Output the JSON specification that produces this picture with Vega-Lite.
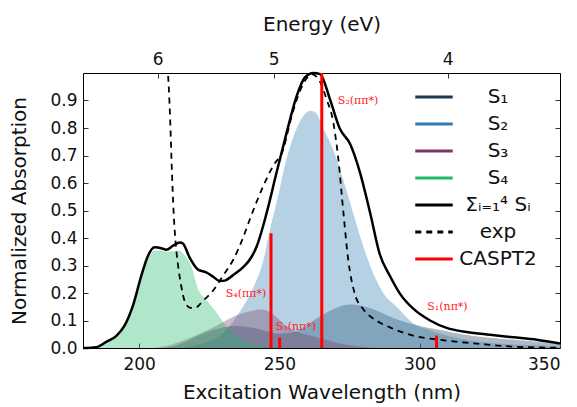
{
  "$schema": "https://vega.github.io/schema/vega-lite/v6.json",
  "width": 477,
  "height": 275,
  "autosize": {"type": "none"},
  "padding": {"left": 83, "top": 73, "right": 17, "bottom": 59},
  "config": {
    "view": {"stroke": "black", "strokeWidth": 1},
    "font": "DejaVu Sans",
    "axis": {"grid": false, "domain": false, "labelFont": "DejaVu Sans", "titleFont": "DejaVu Sans", "labelFontSize": 17, "titleFontSize": 20, "titleFontWeight": "normal", "labelColor": "#111", "titleColor": "#111", "tickColor": "#333"},
    "legend": {"title": null, "orient": "none", "legendX": 337, "legendY": 10, "padding": 0, "symbolType": "M-1.5,0H1.5", "symbolSize": 625, "symbolStrokeWidth": 3, "labelFontSize": 20, "labelFont": "DejaVu Sans", "labelColor": "#111", "labelAlign": "center", "labelOffset": 50, "rowPadding": 3, "labelLimit": 200}
  },
  "datasets": {
    "states": [
      {"nm": 208, "v": 0, "s": "S₁"}, {"nm": 213, "v": 0.008, "s": "S₁"}, {"nm": 218, "v": 0.03, "s": "S₁"}, {"nm": 222, "v": 0.05, "s": "S₁"}, {"nm": 226, "v": 0.065, "s": "S₁"}, {"nm": 230, "v": 0.075, "s": "S₁"}, {"nm": 235, "v": 0.08, "s": "S₁"}, {"nm": 240, "v": 0.075, "s": "S₁"}, {"nm": 245, "v": 0.062, "s": "S₁"}, {"nm": 250, "v": 0.052, "s": "S₁"}, {"nm": 255, "v": 0.058, "s": "S₁"}, {"nm": 260, "v": 0.085, "s": "S₁"}, {"nm": 265, "v": 0.118, "s": "S₁"}, {"nm": 270, "v": 0.145, "s": "S₁"}, {"nm": 275, "v": 0.158, "s": "S₁"}, {"nm": 280, "v": 0.152, "s": "S₁"}, {"nm": 285, "v": 0.135, "s": "S₁"}, {"nm": 290, "v": 0.112, "s": "S₁"}, {"nm": 295, "v": 0.094, "s": "S₁"}, {"nm": 300, "v": 0.08, "s": "S₁"}, {"nm": 305, "v": 0.07, "s": "S₁"}, {"nm": 310, "v": 0.06, "s": "S₁"}, {"nm": 315, "v": 0.05, "s": "S₁"}, {"nm": 320, "v": 0.043, "s": "S₁"}, {"nm": 330, "v": 0.033, "s": "S₁"}, {"nm": 340, "v": 0.025, "s": "S₁"}, {"nm": 350, "v": 0.015, "s": "S₁"},
      {"nm": 215, "v": 0, "s": "S₂"}, {"nm": 220, "v": 0.01, "s": "S₂"}, {"nm": 225, "v": 0.025, "s": "S₂"}, {"nm": 230, "v": 0.055, "s": "S₂"}, {"nm": 233, "v": 0.09, "s": "S₂"}, {"nm": 237, "v": 0.15, "s": "S₂"}, {"nm": 240.7, "v": 0.22, "s": "S₂"}, {"nm": 244.3, "v": 0.32, "s": "S₂"}, {"nm": 246.6, "v": 0.43, "s": "S₂"}, {"nm": 249, "v": 0.53, "s": "S₂"}, {"nm": 252.6, "v": 0.69, "s": "S₂"}, {"nm": 256.2, "v": 0.8, "s": "S₂"}, {"nm": 259, "v": 0.85, "s": "S₂"}, {"nm": 261, "v": 0.863, "s": "S₂"}, {"nm": 263, "v": 0.855, "s": "S₂"}, {"nm": 265.6, "v": 0.8, "s": "S₂"}, {"nm": 269.2, "v": 0.72, "s": "S₂"}, {"nm": 272.8, "v": 0.61, "s": "S₂"}, {"nm": 276.3, "v": 0.49, "s": "S₂"}, {"nm": 279.9, "v": 0.37, "s": "S₂"}, {"nm": 283.5, "v": 0.27, "s": "S₂"}, {"nm": 287, "v": 0.2, "s": "S₂"}, {"nm": 291.8, "v": 0.15, "s": "S₂"}, {"nm": 297.7, "v": 0.09, "s": "S₂"}, {"nm": 303.7, "v": 0.065, "s": "S₂"}, {"nm": 310, "v": 0.045, "s": "S₂"}, {"nm": 320, "v": 0.025, "s": "S₂"}, {"nm": 330, "v": 0.015, "s": "S₂"}, {"nm": 340, "v": 0.01, "s": "S₂"}, {"nm": 350, "v": 0.005, "s": "S₂"},
      {"nm": 205, "v": 0, "s": "S₃"}, {"nm": 210, "v": 0.008, "s": "S₃"}, {"nm": 215, "v": 0.025, "s": "S₃"}, {"nm": 220, "v": 0.045, "s": "S₃"}, {"nm": 225, "v": 0.068, "s": "S₃"}, {"nm": 230, "v": 0.095, "s": "S₃"}, {"nm": 235, "v": 0.12, "s": "S₃"}, {"nm": 240, "v": 0.135, "s": "S₃"}, {"nm": 244, "v": 0.14, "s": "S₃"}, {"nm": 248, "v": 0.12, "s": "S₃"}, {"nm": 252, "v": 0.085, "s": "S₃"}, {"nm": 256, "v": 0.06, "s": "S₃"}, {"nm": 260, "v": 0.048, "s": "S₃"}, {"nm": 265, "v": 0.035, "s": "S₃"}, {"nm": 270, "v": 0.02, "s": "S₃"}, {"nm": 275, "v": 0.01, "s": "S₃"}, {"nm": 282, "v": 0.002, "s": "S₃"}, {"nm": 290, "v": 0, "s": "S₃"},
      {"nm": 180, "v": 0, "s": "S₄"}, {"nm": 184, "v": 0.003, "s": "S₄"}, {"nm": 187, "v": 0.012, "s": "S₄"}, {"nm": 190, "v": 0.03, "s": "S₄"}, {"nm": 193, "v": 0.055, "s": "S₄"}, {"nm": 196, "v": 0.1, "s": "S₄"}, {"nm": 199, "v": 0.19, "s": "S₄"}, {"nm": 201.5, "v": 0.27, "s": "S₄"}, {"nm": 203.5, "v": 0.33, "s": "S₄"}, {"nm": 205.5, "v": 0.355, "s": "S₄"}, {"nm": 208, "v": 0.355, "s": "S₄"}, {"nm": 210, "v": 0.35, "s": "S₄"}, {"nm": 212, "v": 0.352, "s": "S₄"}, {"nm": 214, "v": 0.355, "s": "S₄"}, {"nm": 216, "v": 0.34, "s": "S₄"}, {"nm": 218.5, "v": 0.3, "s": "S₄"}, {"nm": 221, "v": 0.215, "s": "S₄"}, {"nm": 224, "v": 0.175, "s": "S₄"}, {"nm": 227.5, "v": 0.13, "s": "S₄"}, {"nm": 231, "v": 0.08, "s": "S₄"}, {"nm": 234.5, "v": 0.045, "s": "S₄"}, {"nm": 238, "v": 0.025, "s": "S₄"}, {"nm": 242, "v": 0.012, "s": "S₄"}, {"nm": 246, "v": 0.005, "s": "S₄"}, {"nm": 252, "v": 0, "s": "S₄"}
    ],
    "sum": [
      {"nm": 180, "v": 0, "s": "Σᵢ₌₁⁴ Sᵢ"}, {"nm": 184.7, "v": 0.003, "s": "Σᵢ₌₁⁴ Sᵢ"}, {"nm": 188.3, "v": 0.022, "s": "Σᵢ₌₁⁴ Sᵢ"}, {"nm": 191.9, "v": 0.044, "s": "Σᵢ₌₁⁴ Sᵢ"}, {"nm": 194.8, "v": 0.081, "s": "Σᵢ₌₁⁴ Sᵢ"}, {"nm": 197.8, "v": 0.154, "s": "Σᵢ₌₁⁴ Sᵢ"}, {"nm": 200.8, "v": 0.263, "s": "Σᵢ₌₁⁴ Sᵢ"}, {"nm": 203.2, "v": 0.336, "s": "Σᵢ₌₁⁴ Sᵢ"}, {"nm": 205.5, "v": 0.366, "s": "Σᵢ₌₁⁴ Sᵢ"}, {"nm": 207.9, "v": 0.363, "s": "Σᵢ₌₁⁴ Sᵢ"}, {"nm": 209.7, "v": 0.357, "s": "Σᵢ₌₁⁴ Sᵢ"}, {"nm": 212.1, "v": 0.372, "s": "Σᵢ₌₁⁴ Sᵢ"}, {"nm": 214.5, "v": 0.384, "s": "Σᵢ₌₁⁴ Sᵢ"}, {"nm": 215.6, "v": 0.38, "s": "Σᵢ₌₁⁴ Sᵢ"}, {"nm": 218, "v": 0.329, "s": "Σᵢ₌₁⁴ Sᵢ"}, {"nm": 221, "v": 0.285, "s": "Σᵢ₌₁⁴ Sᵢ"}, {"nm": 223.9, "v": 0.275, "s": "Σᵢ₌₁⁴ Sᵢ"}, {"nm": 226.3, "v": 0.26, "s": "Σᵢ₌₁⁴ Sᵢ"}, {"nm": 228.7, "v": 0.244, "s": "Σᵢ₌₁⁴ Sᵢ"}, {"nm": 230.5, "v": 0.245, "s": "Σᵢ₌₁⁴ Sᵢ"}, {"nm": 233.5, "v": 0.265, "s": "Σᵢ₌₁⁴ Sᵢ"}, {"nm": 237, "v": 0.293, "s": "Σᵢ₌₁⁴ Sᵢ"}, {"nm": 240, "v": 0.33, "s": "Σᵢ₌₁⁴ Sᵢ"}, {"nm": 242, "v": 0.372, "s": "Σᵢ₌₁⁴ Sᵢ"}, {"nm": 245.5, "v": 0.493, "s": "Σᵢ₌₁⁴ Sᵢ"}, {"nm": 249, "v": 0.639, "s": "Σᵢ₌₁⁴ Sᵢ"}, {"nm": 252.6, "v": 0.784, "s": "Σᵢ₌₁⁴ Sᵢ"}, {"nm": 256.2, "v": 0.918, "s": "Σᵢ₌₁⁴ Sᵢ"}, {"nm": 259.1, "v": 0.984, "s": "Σᵢ₌₁⁴ Sᵢ"}, {"nm": 262.1, "v": 1.0, "s": "Σᵢ₌₁⁴ Sᵢ"}, {"nm": 264.5, "v": 0.996, "s": "Σᵢ₌₁⁴ Sᵢ"}, {"nm": 268, "v": 0.905, "s": "Σᵢ₌₁⁴ Sᵢ"}, {"nm": 271.6, "v": 0.796, "s": "Σᵢ₌₁⁴ Sᵢ"}, {"nm": 275.2, "v": 0.742, "s": "Σᵢ₌₁⁴ Sᵢ"}, {"nm": 278.7, "v": 0.639, "s": "Σᵢ₌₁⁴ Sᵢ"}, {"nm": 282.3, "v": 0.493, "s": "Σᵢ₌₁⁴ Sᵢ"}, {"nm": 285.8, "v": 0.34, "s": "Σᵢ₌₁⁴ Sᵢ"}, {"nm": 289.4, "v": 0.262, "s": "Σᵢ₌₁⁴ Sᵢ"}, {"nm": 293, "v": 0.197, "s": "Σᵢ₌₁⁴ Sᵢ"}, {"nm": 297.7, "v": 0.143, "s": "Σᵢ₌₁⁴ Sᵢ"}, {"nm": 303.7, "v": 0.1, "s": "Σᵢ₌₁⁴ Sᵢ"}, {"nm": 309.6, "v": 0.073, "s": "Σᵢ₌₁⁴ Sᵢ"}, {"nm": 316.7, "v": 0.058, "s": "Σᵢ₌₁⁴ Sᵢ"}, {"nm": 325, "v": 0.048, "s": "Σᵢ₌₁⁴ Sᵢ"}, {"nm": 333.4, "v": 0.039, "s": "Σᵢ₌₁⁴ Sᵢ"}, {"nm": 341.7, "v": 0.03, "s": "Σᵢ₌₁⁴ Sᵢ"}, {"nm": 350, "v": 0.016, "s": "Σᵢ₌₁⁴ Sᵢ"}
    ],
    "exp": [
      {"nm": 209.8, "v": 1.15, "s": "exp"}, {"nm": 210.3, "v": 1.0, "s": "exp"}, {"nm": 210.6, "v": 0.942, "s": "exp"}, {"nm": 211.1, "v": 0.821, "s": "exp"}, {"nm": 211.7, "v": 0.639, "s": "exp"}, {"nm": 212.3, "v": 0.493, "s": "exp"}, {"nm": 212.9, "v": 0.396, "s": "exp"}, {"nm": 213.9, "v": 0.299, "s": "exp"}, {"nm": 215, "v": 0.226, "s": "exp"}, {"nm": 216.2, "v": 0.172, "s": "exp"}, {"nm": 218, "v": 0.147, "s": "exp"}, {"nm": 219.8, "v": 0.145, "s": "exp"}, {"nm": 222.8, "v": 0.172, "s": "exp"}, {"nm": 226.3, "v": 0.208, "s": "exp"}, {"nm": 229.9, "v": 0.263, "s": "exp"}, {"nm": 233.5, "v": 0.32, "s": "exp"}, {"nm": 237, "v": 0.4, "s": "exp"}, {"nm": 239.5, "v": 0.469, "s": "exp"}, {"nm": 244.3, "v": 0.59, "s": "exp"}, {"nm": 247.8, "v": 0.663, "s": "exp"}, {"nm": 251.4, "v": 0.723, "s": "exp"}, {"nm": 253.8, "v": 0.821, "s": "exp"}, {"nm": 256.7, "v": 0.918, "s": "exp"}, {"nm": 259.1, "v": 0.972, "s": "exp"}, {"nm": 261.5, "v": 0.996, "s": "exp"}, {"nm": 263.9, "v": 0.978, "s": "exp"}, {"nm": 266.8, "v": 0.905, "s": "exp"}, {"nm": 269.2, "v": 0.821, "s": "exp"}, {"nm": 271, "v": 0.687, "s": "exp"}, {"nm": 272.8, "v": 0.493, "s": "exp"}, {"nm": 274.5, "v": 0.323, "s": "exp"}, {"nm": 276.9, "v": 0.196, "s": "exp"}, {"nm": 279.9, "v": 0.141, "s": "exp"}, {"nm": 284.7, "v": 0.099, "s": "exp"}, {"nm": 289.4, "v": 0.075, "s": "exp"}, {"nm": 297.7, "v": 0.045, "s": "exp"}, {"nm": 309.6, "v": 0.027, "s": "exp"}, {"nm": 321.5, "v": 0.015, "s": "exp"}, {"nm": 333.4, "v": 0.005, "s": "exp"}, {"nm": 348.8, "v": 0.001, "s": "exp"}
    ],
    "caspt2": [
      {"nm": 247.0, "v": 0.417, "s": "CASPT2"}, {"nm": 250.1, "v": 0.038, "s": "CASPT2"}, {"nm": 265.1, "v": 1.0, "s": "CASPT2"}, {"nm": 306.0, "v": 0.045, "s": "CASPT2"}
    ],
    "labels": [
      {"t": "S₂(ππ*)", "nm": 278.0, "v": 0.9}, {"t": "S₄(ππ*)", "nm": 238.1, "v": 0.197}, {"t": "S₃(nπ*)", "nm": 255.9, "v": 0.076}, {"t": "S₁(nπ*)", "nm": 309.9, "v": 0.149}
    ]
  },
  "resolve": {"axis": {"x": "independent", "y": "independent"}},
  "layer": [
    {
      "data": {"name": "states"},
      "mark": {"type": "area", "fillOpacity": 0.35, "interpolate": "monotone"},
      "encoding": {
        "x": {"field": "nm", "type": "quantitative", "scale": {"domain": [180, 350], "nice": false, "zero": false},
              "axis": {"orient": "bottom", "title": "Excitation Wavelength (nm)", "values": [200, 250, 300, 350], "tickSize": -5, "labelPadding": 13, "titlePadding": 10}},
        "y": {"field": "v", "type": "quantitative", "stack": null, "scale": {"domain": [0, 1], "nice": false},
              "axis": {"orient": "left", "title": "Normalized Absorption", "values": [0, 0.1, 0.2, 0.3, 0.4, 0.5, 0.6, 0.7, 0.8, 0.9], "format": ".1f", "tickSize": -5, "labelPadding": 11, "titlePadding": 20}},
        "color": {"field": "s", "type": "nominal",
          "scale": {"domain": ["S₁", "S₂", "S₃", "S₄", "Σᵢ₌₁⁴ Sᵢ", "exp", "CASPT2"], "range": ["#1d3a55", "#2e7bb2", "#7a3b5e", "#1cbb66", "#000000", "#000000", "#ff0000"]}}
      }
    },
    {
      "data": {"name": "sum"},
      "mark": {"type": "line", "strokeWidth": 2.5, "interpolate": "monotone"},
      "encoding": {
        "x": {"field": "nm", "type": "quantitative", "axis": {"orient": "top", "title": "Energy (eV)", "values": [206.64, 247.97, 309.96], "labelExpr": "format(1239.84 / datum.value, '.0f')", "tickSize": -5, "labelPadding": 10, "titlePadding": 16}},
        "y": {"field": "v", "type": "quantitative", "axis": {"orient": "right", "title": null, "labels": false, "values": [0.1, 0.2, 0.3, 0.4, 0.5, 0.6, 0.7, 0.8, 0.9], "tickSize": -5}},
        "color": {"field": "s", "type": "nominal"}
      }
    },
    {
      "data": {"name": "exp"},
      "mark": {"type": "line", "strokeWidth": 1.8, "interpolate": "monotone", "clip": true},
      "encoding": {
        "x": {"field": "nm", "type": "quantitative", "axis": null},
        "y": {"field": "v", "type": "quantitative", "axis": null},
        "color": {"field": "s", "type": "nominal"},
        "strokeDash": {"field": "s", "type": "nominal",
          "scale": {"domain": ["S₁", "S₂", "S₃", "S₄", "Σᵢ₌₁⁴ Sᵢ", "exp", "CASPT2"], "range": [[1, 0], [1, 0], [1, 0], [1, 0], [1, 0], [6, 5], [1, 0]]}}
      }
    },
    {
      "data": {"name": "caspt2"},
      "mark": {"type": "rule", "strokeWidth": 3},
      "encoding": {
        "x": {"field": "nm", "type": "quantitative", "axis": null},
        "y": {"field": "v", "type": "quantitative", "axis": null},
        "y2": {"datum": 0},
        "color": {"field": "s", "type": "nominal"}
      }
    },
    {
      "data": {"name": "labels"},
      "mark": {"type": "text", "font": "DejaVu Serif", "fontSize": 11, "color": "#ff2020"},
      "encoding": {
        "x": {"field": "nm", "type": "quantitative", "axis": null},
        "y": {"field": "v", "type": "quantitative", "axis": null},
        "text": {"field": "t", "type": "nominal"}
      }
    }
  ]
}
